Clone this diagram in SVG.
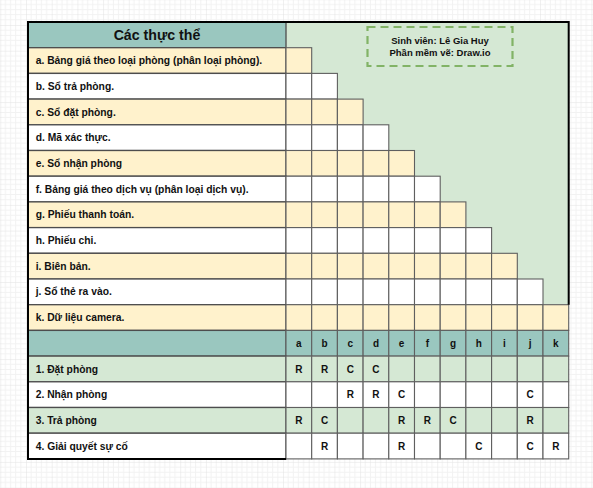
<svg xmlns="http://www.w3.org/2000/svg" xmlns:xlink="http://www.w3.org/1999/xlink" width="593" height="488" viewBox="0 0 593 488">
<style>
.y{fill:#fff2cc}.w{fill:#ffffff}.g{fill:#d5e8d4}.t{fill:#9ac7bf}
.lc{stroke:#4d4d4d;stroke-width:1.3}
text{font-family:"Liberation Sans",Arial,sans-serif;font-weight:bold;fill:#111}
.lbl{font-size:10.3px}
.m{font-size:10px;text-anchor:middle}
</style>
<defs>
<pattern id="grid" patternUnits="userSpaceOnUse" x="0.3" y="-0.7" width="25.7" height="25.7">
<path d="M5.14 0V25.7M10.28 0V25.7M15.42 0V25.7M20.56 0V25.7M0 5.14H25.7M0 10.28H25.7M0 15.42H25.7M0 20.56H25.7" stroke="#f2f2f2" stroke-width="1" fill="none"/>
<path d="M0 0V25.7M0 0H25.7" stroke="#e2e2e2" stroke-width="1" fill="none"/>
</pattern>
<rect id="c" width="25.7" height="25.7" stroke="#5f5f5f" stroke-width="1.1"/>
</defs>
<rect width="593" height="488" fill="#ffffff"/>
<rect width="593" height="488" fill="url(#grid)"/>

<g id="green-area">
<rect x="286" y="22" width="282.7" height="282.7" fill="#d5e8d4"/>
</g>

<g id="header">
<rect x="28" y="22" width="258" height="25.7" class="t lc"/>
<text x="157" y="40" font-size="14.2" text-anchor="middle">Các thực thể</text>
</g>

<g id="note">
<rect x="367.5" y="27" width="145" height="39" fill="none" stroke="#82b366" stroke-width="2.2" stroke-dasharray="8 5"/>
<text x="440" y="44" font-size="9.5" text-anchor="middle">Sinh viên: Lê Gia Huy</text>
<text x="440" y="55.5" font-size="9.5" text-anchor="middle">Phần mềm vẽ: Draw.io</text>
</g>

<g id="entity-a">
<rect x="28" y="47.7" width="258" height="25.7" class="y lc"/>
<use xlink:href="#c" x="286" y="47.7" class="y"/>
<text class="lbl" x="35.7" y="64.1">a. Bảng giá theo loại phòng (phân loại phòng).</text>
</g>
<g id="entity-b">
<rect x="28" y="73.4" width="258" height="25.7" class="w lc"/>
<use xlink:href="#c" x="286" y="73.4" class="w"/><use xlink:href="#c" x="311.7" y="73.4" class="w"/>
<text class="lbl" x="35.7" y="89.8">b. Sổ trả phòng.</text>
</g>
<g id="entity-c">
<rect x="28" y="99.1" width="258" height="25.7" class="y lc"/>
<use xlink:href="#c" x="286" y="99.1" class="y"/><use xlink:href="#c" x="311.7" y="99.1" class="y"/><use xlink:href="#c" x="337.4" y="99.1" class="y"/>
<text class="lbl" x="35.7" y="115.5">c. Sổ đặt phòng.</text>
</g>
<g id="entity-d">
<rect x="28" y="124.8" width="258" height="25.7" class="w lc"/>
<use xlink:href="#c" x="286" y="124.8" class="w"/><use xlink:href="#c" x="311.7" y="124.8" class="w"/><use xlink:href="#c" x="337.4" y="124.8" class="w"/><use xlink:href="#c" x="363.1" y="124.8" class="w"/>
<text class="lbl" x="35.7" y="141.2">d. Mã xác thực.</text>
</g>
<g id="entity-e">
<rect x="28" y="150.5" width="258" height="25.7" class="y lc"/>
<use xlink:href="#c" x="286" y="150.5" class="y"/><use xlink:href="#c" x="311.7" y="150.5" class="y"/><use xlink:href="#c" x="337.4" y="150.5" class="y"/><use xlink:href="#c" x="363.1" y="150.5" class="y"/><use xlink:href="#c" x="388.8" y="150.5" class="y"/>
<text class="lbl" x="35.7" y="166.9">e. Sổ nhận phòng</text>
</g>
<g id="entity-f">
<rect x="28" y="176.2" width="258" height="25.7" class="w lc"/>
<use xlink:href="#c" x="286" y="176.2" class="w"/><use xlink:href="#c" x="311.7" y="176.2" class="w"/><use xlink:href="#c" x="337.4" y="176.2" class="w"/><use xlink:href="#c" x="363.1" y="176.2" class="w"/><use xlink:href="#c" x="388.8" y="176.2" class="w"/><use xlink:href="#c" x="414.5" y="176.2" class="w"/>
<text class="lbl" x="35.7" y="192.6">f. Bảng giá theo dịch vụ (phân loại dịch vụ).</text>
</g>
<g id="entity-g">
<rect x="28" y="201.9" width="258" height="25.7" class="y lc"/>
<use xlink:href="#c" x="286" y="201.9" class="y"/><use xlink:href="#c" x="311.7" y="201.9" class="y"/><use xlink:href="#c" x="337.4" y="201.9" class="y"/><use xlink:href="#c" x="363.1" y="201.9" class="y"/><use xlink:href="#c" x="388.8" y="201.9" class="y"/><use xlink:href="#c" x="414.5" y="201.9" class="y"/><use xlink:href="#c" x="440.2" y="201.9" class="y"/>
<text class="lbl" x="35.7" y="218.3">g. Phiếu thanh toán.</text>
</g>
<g id="entity-h">
<rect x="28" y="227.6" width="258" height="25.7" class="w lc"/>
<use xlink:href="#c" x="286" y="227.6" class="w"/><use xlink:href="#c" x="311.7" y="227.6" class="w"/><use xlink:href="#c" x="337.4" y="227.6" class="w"/><use xlink:href="#c" x="363.1" y="227.6" class="w"/><use xlink:href="#c" x="388.8" y="227.6" class="w"/><use xlink:href="#c" x="414.5" y="227.6" class="w"/><use xlink:href="#c" x="440.2" y="227.6" class="w"/><use xlink:href="#c" x="465.9" y="227.6" class="w"/>
<text class="lbl" x="35.7" y="244">h. Phiếu chi.</text>
</g>
<g id="entity-i">
<rect x="28" y="253.3" width="258" height="25.7" class="y lc"/>
<use xlink:href="#c" x="286" y="253.3" class="y"/><use xlink:href="#c" x="311.7" y="253.3" class="y"/><use xlink:href="#c" x="337.4" y="253.3" class="y"/><use xlink:href="#c" x="363.1" y="253.3" class="y"/><use xlink:href="#c" x="388.8" y="253.3" class="y"/><use xlink:href="#c" x="414.5" y="253.3" class="y"/><use xlink:href="#c" x="440.2" y="253.3" class="y"/><use xlink:href="#c" x="465.9" y="253.3" class="y"/><use xlink:href="#c" x="491.6" y="253.3" class="y"/>
<text class="lbl" x="35.7" y="269.7">i. Biên bản.</text>
</g>
<g id="entity-j">
<rect x="28" y="279" width="258" height="25.7" class="w lc"/>
<use xlink:href="#c" x="286" y="279" class="w"/><use xlink:href="#c" x="311.7" y="279" class="w"/><use xlink:href="#c" x="337.4" y="279" class="w"/><use xlink:href="#c" x="363.1" y="279" class="w"/><use xlink:href="#c" x="388.8" y="279" class="w"/><use xlink:href="#c" x="414.5" y="279" class="w"/><use xlink:href="#c" x="440.2" y="279" class="w"/><use xlink:href="#c" x="465.9" y="279" class="w"/><use xlink:href="#c" x="491.6" y="279" class="w"/><use xlink:href="#c" x="517.3" y="279" class="w"/>
<text class="lbl" x="35.7" y="295.4">j. Sổ thẻ ra vào.</text>
</g>
<g id="entity-k">
<rect x="28" y="304.7" width="258" height="25.7" class="y lc"/>
<use xlink:href="#c" x="286" y="304.7" class="y"/><use xlink:href="#c" x="311.7" y="304.7" class="y"/><use xlink:href="#c" x="337.4" y="304.7" class="y"/><use xlink:href="#c" x="363.1" y="304.7" class="y"/><use xlink:href="#c" x="388.8" y="304.7" class="y"/><use xlink:href="#c" x="414.5" y="304.7" class="y"/><use xlink:href="#c" x="440.2" y="304.7" class="y"/><use xlink:href="#c" x="465.9" y="304.7" class="y"/><use xlink:href="#c" x="491.6" y="304.7" class="y"/><use xlink:href="#c" x="517.3" y="304.7" class="y"/><use xlink:href="#c" x="543" y="304.7" class="y"/>
<text class="lbl" x="35.7" y="321.1">k. Dữ liệu camera.</text>
</g>

<g id="matrix-header">
<rect x="28" y="330.4" width="258" height="25.7" class="t lc"/>
<use xlink:href="#c" x="286" y="330.4" class="t"/><use xlink:href="#c" x="311.7" y="330.4" class="t"/><use xlink:href="#c" x="337.4" y="330.4" class="t"/><use xlink:href="#c" x="363.1" y="330.4" class="t"/><use xlink:href="#c" x="388.8" y="330.4" class="t"/><use xlink:href="#c" x="414.5" y="330.4" class="t"/><use xlink:href="#c" x="440.2" y="330.4" class="t"/><use xlink:href="#c" x="465.9" y="330.4" class="t"/><use xlink:href="#c" x="491.6" y="330.4" class="t"/><use xlink:href="#c" x="517.3" y="330.4" class="t"/><use xlink:href="#c" x="543" y="330.4" class="t"/>
<text class="m" x="298.85" y="346.9">a</text><text class="m" x="324.55" y="346.9">b</text><text class="m" x="350.25" y="346.9">c</text><text class="m" x="375.95" y="346.9">d</text><text class="m" x="401.65" y="346.9">e</text><text class="m" x="427.35" y="346.9">f</text><text class="m" x="453.05" y="346.9">g</text><text class="m" x="478.75" y="346.9">h</text><text class="m" x="504.45" y="346.9">i</text><text class="m" x="530.15" y="346.9">j</text><text class="m" x="555.85" y="346.9">k</text>
</g>

<g id="process-1">
<rect x="28" y="356.1" width="258" height="25.7" class="g lc"/>
<use xlink:href="#c" x="286" y="356.1" class="g"/><use xlink:href="#c" x="311.7" y="356.1" class="g"/><use xlink:href="#c" x="337.4" y="356.1" class="g"/><use xlink:href="#c" x="363.1" y="356.1" class="g"/><use xlink:href="#c" x="388.8" y="356.1" class="g"/><use xlink:href="#c" x="414.5" y="356.1" class="g"/><use xlink:href="#c" x="440.2" y="356.1" class="g"/><use xlink:href="#c" x="465.9" y="356.1" class="g"/><use xlink:href="#c" x="491.6" y="356.1" class="g"/><use xlink:href="#c" x="517.3" y="356.1" class="g"/><use xlink:href="#c" x="543" y="356.1" class="g"/>
<text class="lbl" x="35.7" y="372.5">1. Đặt phòng</text>
<text class="m" x="298.85" y="372.6">R</text><text class="m" x="324.55" y="372.6">R</text><text class="m" x="350.25" y="372.6">C</text><text class="m" x="375.95" y="372.6">C</text>
</g>
<g id="process-2">
<rect x="28" y="381.8" width="258" height="25.7" class="w lc"/>
<use xlink:href="#c" x="286" y="381.8" class="w"/><use xlink:href="#c" x="311.7" y="381.8" class="w"/><use xlink:href="#c" x="337.4" y="381.8" class="w"/><use xlink:href="#c" x="363.1" y="381.8" class="w"/><use xlink:href="#c" x="388.8" y="381.8" class="w"/><use xlink:href="#c" x="414.5" y="381.8" class="w"/><use xlink:href="#c" x="440.2" y="381.8" class="w"/><use xlink:href="#c" x="465.9" y="381.8" class="w"/><use xlink:href="#c" x="491.6" y="381.8" class="w"/><use xlink:href="#c" x="517.3" y="381.8" class="w"/><use xlink:href="#c" x="543" y="381.8" class="w"/>
<text class="lbl" x="35.7" y="398.2">2. Nhận phòng</text>
<text class="m" x="350.25" y="398.3">R</text><text class="m" x="375.95" y="398.3">R</text><text class="m" x="401.65" y="398.3">C</text><text class="m" x="530.15" y="398.3">C</text>
</g>
<g id="process-3">
<rect x="28" y="407.5" width="258" height="25.7" class="g lc"/>
<use xlink:href="#c" x="286" y="407.5" class="g"/><use xlink:href="#c" x="311.7" y="407.5" class="g"/><use xlink:href="#c" x="337.4" y="407.5" class="g"/><use xlink:href="#c" x="363.1" y="407.5" class="g"/><use xlink:href="#c" x="388.8" y="407.5" class="g"/><use xlink:href="#c" x="414.5" y="407.5" class="g"/><use xlink:href="#c" x="440.2" y="407.5" class="g"/><use xlink:href="#c" x="465.9" y="407.5" class="g"/><use xlink:href="#c" x="491.6" y="407.5" class="g"/><use xlink:href="#c" x="517.3" y="407.5" class="g"/><use xlink:href="#c" x="543" y="407.5" class="g"/>
<text class="lbl" x="35.7" y="423.9">3. Trả phòng</text>
<text class="m" x="298.85" y="424">R</text><text class="m" x="324.55" y="424">C</text><text class="m" x="401.65" y="424">R</text><text class="m" x="427.35" y="424">R</text><text class="m" x="453.05" y="424">C</text><text class="m" x="530.15" y="424">R</text>
</g>
<g id="process-4">
<rect x="28" y="433.2" width="258" height="25.7" class="w lc"/>
<use xlink:href="#c" x="286" y="433.2" class="w"/><use xlink:href="#c" x="311.7" y="433.2" class="w"/><use xlink:href="#c" x="337.4" y="433.2" class="w"/><use xlink:href="#c" x="363.1" y="433.2" class="w"/><use xlink:href="#c" x="388.8" y="433.2" class="w"/><use xlink:href="#c" x="414.5" y="433.2" class="w"/><use xlink:href="#c" x="440.2" y="433.2" class="w"/><use xlink:href="#c" x="465.9" y="433.2" class="w"/><use xlink:href="#c" x="491.6" y="433.2" class="w"/><use xlink:href="#c" x="517.3" y="433.2" class="w"/><use xlink:href="#c" x="543" y="433.2" class="w"/>
<text class="lbl" x="35.7" y="449.6">4. Giải quyết sự cố</text>
<text class="m" x="324.55" y="449.7">R</text><text class="m" x="401.65" y="449.7">R</text><text class="m" x="478.75" y="449.7">C</text><text class="m" x="530.15" y="449.7">C</text><text class="m" x="555.85" y="449.7">R</text>
</g>

<g id="frame">
<path d="M568.7 304.7V22H28V458.9H286" fill="none" stroke="#000" stroke-width="2"/>
</g>
<g id="connectors"></g>
</svg>
